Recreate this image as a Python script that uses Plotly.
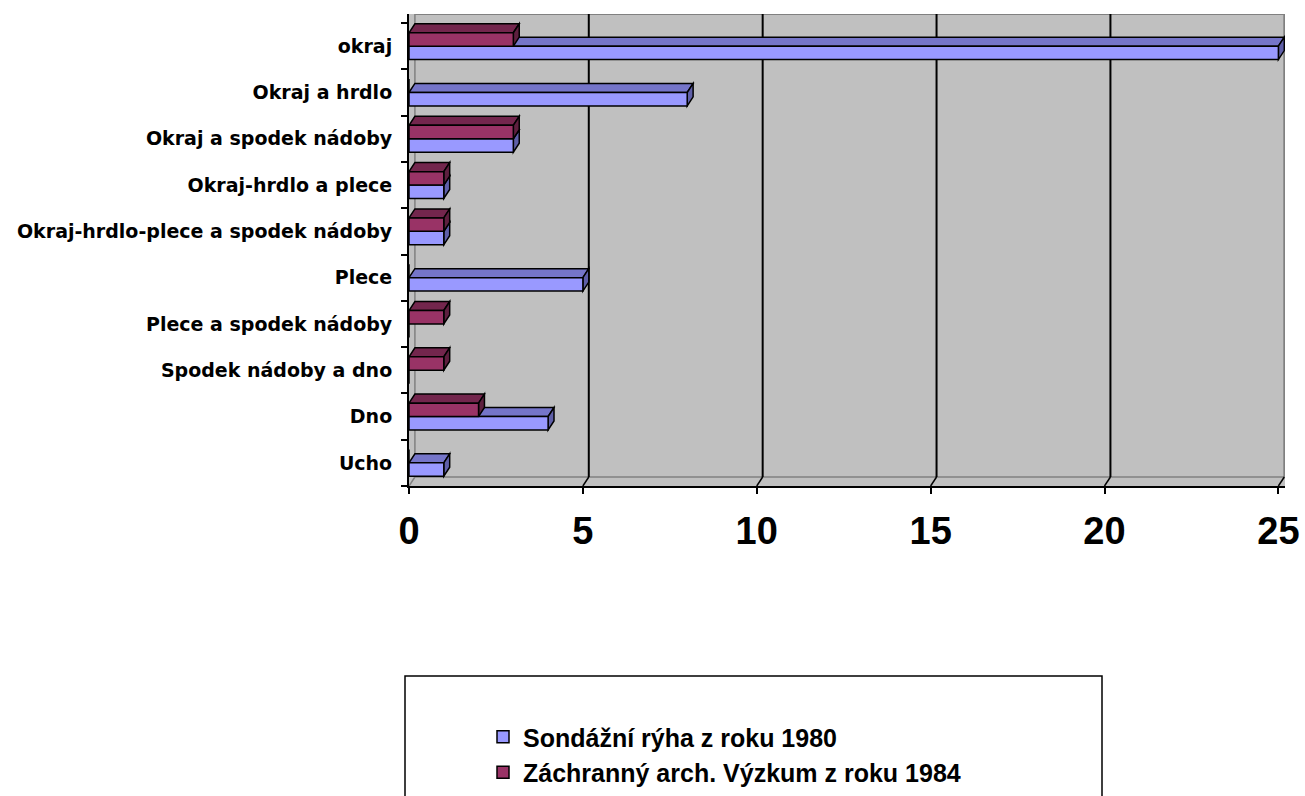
import plotly.graph_objects as go

categories = ["okraj", "Okraj a hrdlo", "Okraj a spodek nádoby", "Okraj-hrdlo a plece",
              "Okraj-hrdlo-plece a spodek nádoby", "Plece", "Plece a spodek nádoby",
              "Spodek nádoby a dno", "Dno", "Ucho"]
series_1980 = [25, 8, 3, 1, 1, 5, 0, 0, 4, 1]
series_1984 = [3, 0, 3, 1, 1, 0, 1, 1, 2, 0]
x_ticks = [0, 5, 10, 15, 20, 25]
name_1980 = "Sondážní rýha z roku 1980"
name_1984 = "Záchranný arch. Výzkum z roku 1984"

# ---- layout constants (pixels); body margin removed via post_script ----
OFF = 0
W, H = 1305 - OFF, 796 - OFF
PL, PR, PT, PB = 409 - OFF, 1285 - OFF, 14 - OFF, 486 - OFF   # plot area edges
ML, MR, MT, MB = PL, W - PR, PT, H - PB
PW, PH = PR - PL, PB - PT

n = len(categories)
ypos = [n - 1 - i for i in range(n)]
XMAX = x_ticks[-1]
DX = 0.17   # depth offset in x data units
DY = 0.195  # depth offset in y data units
BW = 0.29   # bar width
y_lo, y_hi = -0.5, n - 0.5 + DY
x_hi = XMAX + DX + 0.02

FONT = "Arial, Liberation Sans, sans-serif"
blue = dict(front="#9999FF", top="#7575C9", side="#5F5FA8")
maroon = dict(front="#993366", top="#73264D", side="#5E1F3F")

fig = go.Figure()
fig.add_trace(go.Bar(y=ypos, x=series_1980, orientation="h", name=name_1980,
                     width=BW, offset=-BW, legendgroup="a",
                     marker=dict(color=blue["front"], line=dict(color="black", width=1.5))))
fig.add_trace(go.Bar(y=ypos, x=series_1984, orientation="h", name=name_1984,
                     width=BW, offset=0, legendgroup="b",
                     marker=dict(color=maroon["front"], line=dict(color="black", width=1.5))))

shapes = []
def path(pts):
    return "M " + " L ".join(f"{x},{y}" for x, y in pts) + " Z"

# back wall edges
gray = "#808080"
shapes.append(dict(type="line", xref="x", yref="y", x0=DX, x1=DX, y0=y_lo + DY, y1=y_hi,
                   line=dict(color=gray, width=1.5), layer="below"))
shapes.append(dict(type="line", xref="x", yref="y", x0=DX, x1=XMAX + DX, y0=y_hi, y1=y_hi,
                   line=dict(color=gray, width=2), layer="below"))
shapes.append(dict(type="line", xref="x", yref="y", x0=DX, x1=XMAX + DX, y0=y_lo + DY, y1=y_lo + DY,
                   line=dict(color=gray, width=1.5), layer="below"))
shapes.append(dict(type="line", xref="x", yref="y", x0=0, x1=DX, y0=y_lo, y1=y_lo + DY,
                   line=dict(color=gray, width=1.5), layer="below"))
# gridlines on the back wall + floor diagonals
for v in x_ticks[1:]:
    col = "black" if v < XMAX else gray
    shapes.append(dict(type="line", xref="x", yref="y", x0=v + DX, x1=v + DX, y0=y_lo + DY, y1=y_hi,
                       line=dict(color=col, width=2), layer="below"))
    shapes.append(dict(type="line", xref="x", yref="y", x0=v, x1=v + DX, y0=y_lo, y1=y_lo + DY,
                       line=dict(color="black", width=1.5), layer="below"))

# 3D faces
for yc, v1, v2 in zip(ypos, series_1980, series_1984):
    for v, off, c in ((v1, -BW, blue), (v2, 0, maroon)):
        if v <= 0:
            continue
        yb, yt = yc + off, yc + off + BW
        top = [(0, yt), (v, yt), (v + DX, yt + DY), (DX, yt + DY)]
        side = [(v, yb), (v, yt), (v + DX, yt + DY), (v + DX, yb + DY)]
        shapes.append(dict(type="path", xref="x", yref="y", path=path(top), fillcolor=c["top"],
                           line=dict(color="black", width=1.5), layer="below"))
        shapes.append(dict(type="path", xref="x", yref="y", path=path(side), fillcolor=c["side"],
                           line=dict(color="black", width=1.5), layer="below"))

# legend frame (reference pixel coords -> paper)
def px_x(p):
    return (p - OFF - PL) / PW
def px_y(p):
    return (PB - (p - OFF)) / PH
shapes.append(dict(type="rect", xref="paper", yref="paper", x0=px_x(405), x1=px_x(1102),
                   y0=px_y(806), y1=px_y(676), line=dict(color="black", width=1.5),
                   fillcolor="rgba(0,0,0,0)", layer="above"))

fig.update_layout(
    width=W, height=H,
    margin=dict(l=ML, r=MR, t=MT, b=MB, pad=0, autoexpand=False),
    paper_bgcolor="white", plot_bgcolor="#C0C0C0",
    barmode="overlay",
    shapes=shapes,
    showlegend=True,
    legend=dict(x=px_x(483), y=px_y(714), xanchor="left", yanchor="top",
                font=dict(family=FONT, size=25, color="black", weight="bold"),
                traceorder="normal", bgcolor="rgba(0,0,0,0)"),
    font=dict(family=FONT, color="black"),
)
fig.update_xaxes(range=[0, x_hi], tickvals=x_ticks, showgrid=False, zeroline=False,
                 showline=True, linecolor="black", linewidth=2,
                 ticks="outside", ticklen=6, tickcolor="black", tickwidth=1.5,
                 tickfont=dict(family=FONT, size=38, weight="bold", color="black"),
                 ticklabelstandoff=4)
fig.update_yaxes(range=[y_lo, y_hi], tickvals=ypos, ticktext=categories,
                 showgrid=False, zeroline=False, showline=True, linecolor="black", linewidth=2,
                 ticks="", ticklabelstandoff=11,
                 tickfont=dict(family="DejaVu Sans, Arial, sans-serif", size=19, weight="bold",
                               color="black"),
                 minor=dict(tickmode="array", tickvals=[p - 0.5 for p in range(n + 1)],
                            ticks="outside", ticklen=6, tickcolor="black", tickwidth=1.5,
                            showgrid=False))

fig.write_html("out.html", config={"displayModeBar": False},
               post_script="document.body.style.margin='0px';")
